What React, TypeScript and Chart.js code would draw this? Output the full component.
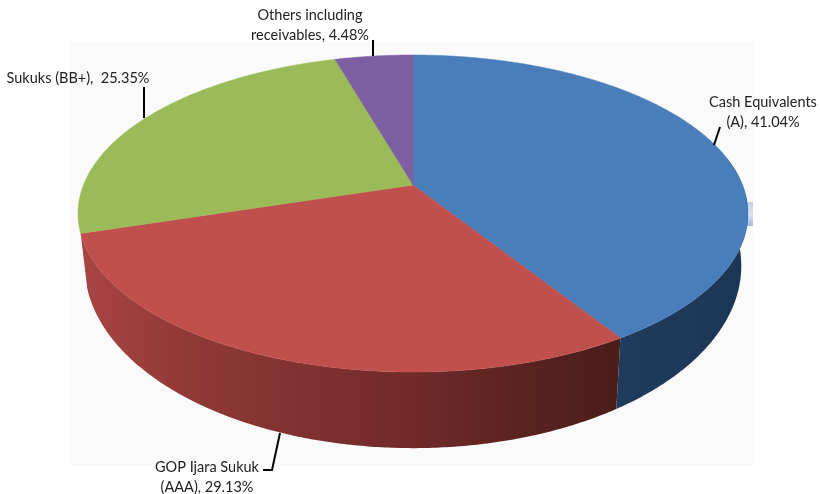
import React, { useEffect, useRef } from "react";
import { Chart, registerables } from "chart.js";

Chart.register(...registerables);

const categories = ["Cash Equivalents (A)", "GOP Ijara Sukuk (AAA)", "Sukuks (BB+)", "Others including receivables"];
const shares = [41.04, 29.13, 25.35, 4.48];
const topColours = ["#4a7ebb", "#c0504d", "#9bbb59", "#7f5fa3"];
const labelLines = [
  ["Cash Equivalents", "(A), 41.04%"],
  ["GOP Ijara Sukuk", "(AAA), 29.13%"],
  ["Sukuks (BB+),  25.35%"],
  ["Others including", "receivables, 4.48%"],
];

// Styling and layout of the 3D projection
const PROJ = { cx: 413, cy: 185, a: 329.5, b: 153.4, k: 0.18 };
const FLOOR = { cy: 233, sx: 0.98, sy: 1.15 };
const wallStops: (([number, string])[] | null)[] = [
  [[600, "#1f3c5e"], [750, "#1c3655"]],
  [[80, "#a84543"], [200, "#8e3836"], [340, "#7a2f2e"], [420, "#6f2a28"], [520, "#5a2320"], [615, "#4b1d1b"]],
  null,
  null,
];
const labelPos = [
  { x: 763, y: 102 },
  { x: 207, y: 467 },
  { x: 78, y: 78 },
  { x: 310, y: 15 },
];
const leaders = [
  [[720, 127], [714, 145]],
  [[280, 433], [272, 470], [263, 470]],
  [[144, 87], [144, 118]],
  [[373, 40], [373, 56]],
];
const LINE_GAP = 20;
const FONT = '14.5px Lato';

const top = (t: number): [number, number] => {
  const d = 1 - PROJ.k * Math.sin(t);
  return [PROJ.cx + (PROJ.a * Math.cos(t)) / d, PROJ.cy + (PROJ.b * Math.sin(t)) / d];
};
const floor = (t: number): [number, number] => {
  const d = 1 - PROJ.k * Math.sin(t);
  return [PROJ.cx + (FLOOR.sx * PROJ.a * Math.cos(t)) / d, FLOOR.cy + (FLOOR.sy * PROJ.b * Math.sin(t)) / d];
};

const pie3d = {
  id: "pie3d",
  beforeDraw(chart: any) {
    const { ctx } = chart;
    ctx.save();
    ctx.fillStyle = "#ffffff";
    ctx.fillRect(0, 0, chart.width, chart.height);
    ctx.fillStyle = "#fafafa";
    ctx.fillRect(71, 41, 682, 426);
    const g = ctx.createLinearGradient(0, 202, 0, 226);
    g.addColorStop(0, "#c4cfe6");
    g.addColorStop(0.5, "#dfe5f1");
    g.addColorStop(1, "#a9b8d8");
    ctx.fillStyle = g;
    ctx.fillRect(745, 202, 8, 24);
    ctx.restore();
  },
  beforeDatasetDraw(chart: any, args: any) {
    const { ctx } = chart;
    const arcs = chart.getDatasetMeta(args.index).data;
    const step = Math.PI / 360;
    const minWall = (-10.4 * Math.PI) / 180;
    ctx.save();
    arcs.forEach((arc: any, i: number) => {
      const stops = wallStops[i];
      if (!stops) return;
      const from = Math.max(arc.startAngle, minWall);
      const to = arc.endAngle;
      const g = ctx.createLinearGradient(stops[0][0], 0, stops[stops.length - 1][0], 0);
      const span = stops[stops.length - 1][0] - stops[0][0];
      stops.forEach(([x, c]) => g.addColorStop((x - stops[0][0]) / span, c));
      ctx.fillStyle = g;
      ctx.beginPath();
      for (let t = from; t < to; t += step) ctx.lineTo(...top(t));
      ctx.lineTo(...top(to));
      ctx.lineTo(...floor(to));
      for (let t = to; t > from; t -= step) ctx.lineTo(...floor(t));
      ctx.lineTo(...floor(from));
      ctx.closePath();
      ctx.fill();
    });
    arcs.forEach((arc: any, i: number) => {
      ctx.fillStyle = topColours[i];
      ctx.strokeStyle = topColours[i];
      ctx.lineWidth = 0.5;
      ctx.beginPath();
      ctx.moveTo(PROJ.cx, PROJ.cy);
      for (let t = arc.startAngle; t < arc.endAngle; t += step) ctx.lineTo(...top(t));
      ctx.lineTo(...top(arc.endAngle));
      ctx.closePath();
      ctx.fill();
      ctx.stroke();
    });
    ctx.restore();
    return false;
  },
  afterDraw(chart: any) {
    const { ctx } = chart;
    ctx.save();
    ctx.strokeStyle = "#000000";
    ctx.lineWidth = 2;
    leaders.forEach((pts) => {
      ctx.beginPath();
      pts.forEach(([x, y], j) => (j ? ctx.lineTo(x, y) : ctx.moveTo(x, y)));
      ctx.stroke();
    });
    ctx.fillStyle = "#222222";
    ctx.font = FONT;
    ctx.textAlign = "center";
    ctx.textBaseline = "middle";
    labelLines.forEach((lines, i) => {
      lines.forEach((line, j) => ctx.fillText(line, labelPos[i].x, labelPos[i].y + j * LINE_GAP));
    });
    ctx.restore();
  },
};

export default function App() {
  const ref = useRef<HTMLCanvasElement>(null);
  useEffect(() => {
    const chart = new Chart(ref.current as HTMLCanvasElement, {
      type: "pie",
      data: {
        labels: categories,
        datasets: [{ data: shares, backgroundColor: topColours, borderWidth: 0 }],
      },
      options: {
        responsive: false,
        animation: false,
        devicePixelRatio: 1,
        plugins: { legend: { display: false }, tooltip: { enabled: false } },
      },
      plugins: [pie3d],
    } as any);
    return () => chart.destroy();
  }, []);
  return (
    <canvas
      ref={ref}
      width={820}
      height={494}
      style={{ position: "absolute", left: 0, top: 0, width: 820, height: 494, display: "block" }}
    />
  );
}
